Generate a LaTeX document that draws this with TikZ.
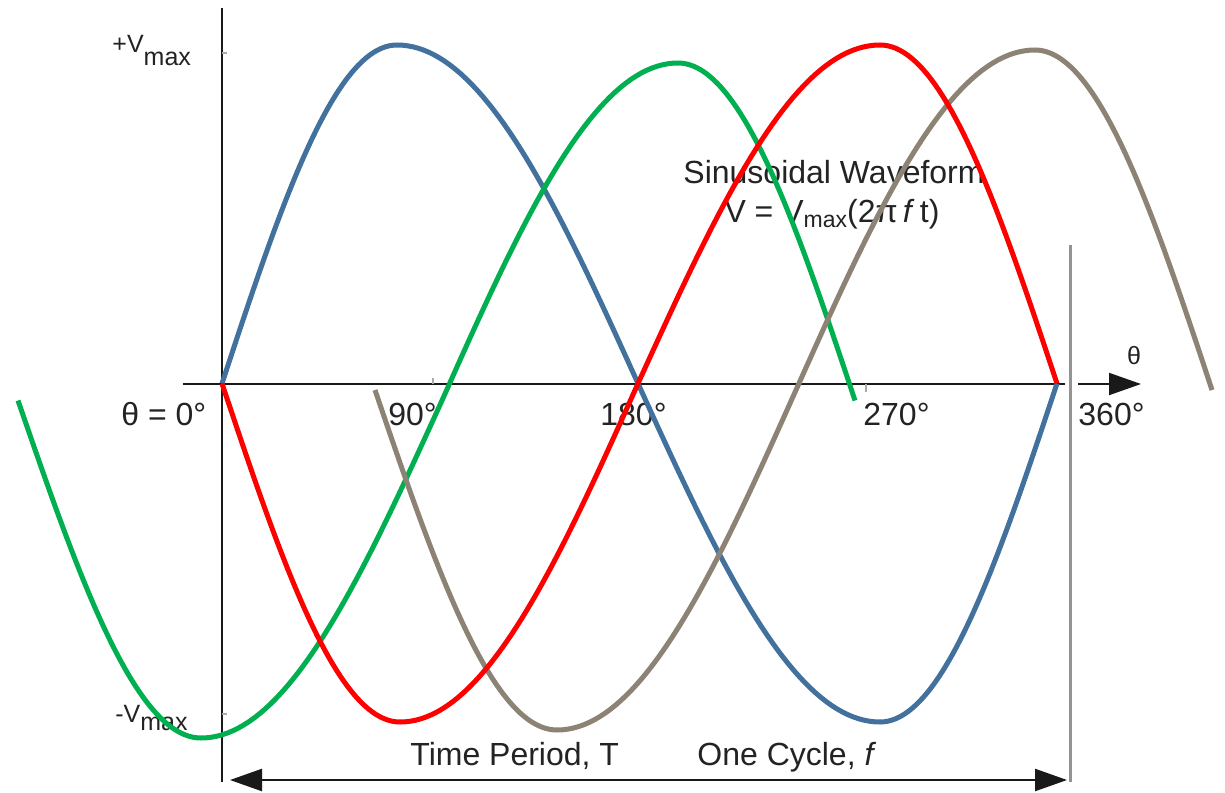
\documentclass[tikz,border=0pt]{standalone}
\usepackage{fontspec}
\setmainfont{Liberation Sans}
\usetikzlibrary{arrows.meta}
\definecolor{wblue}{RGB}{65,113,156}
\definecolor{wgreen}{RGB}{0,176,80}
\definecolor{wred}{RGB}{255,0,0}
\definecolor{wgray}{RGB}{140,131,116}
\definecolor{txt}{RGB}{35,35,35}
\definecolor{axc}{RGB}{25,25,25}
\definecolor{tickc}{RGB}{170,170,170}
\newcommand\sinwave[8]{%
  \draw[#1] plot[domain=0:360,samples=181,variable=\t]
   ({#2+(#3-#2)*qq(\t)+(#4-#3)*qq(\t-90)+(#5-#4)*qq(\t-180)+(#6-#5)*qq(\t-270)},{#7-#8*sin(\t)});}
\begin{document}
\begin{tikzpicture}[x=0.5pt,y=-0.5pt,
  declare function={qq(\t)=min(max(\t,0),90)/90;},
  lbl/.style={inner sep=0pt, text=txt, font=\fontsize{16}{19}\selectfont},
  vlbl/.style={inner sep=0pt, text=txt, font=\fontsize{12.5}{15}\selectfont},
  wv/.style={line width=2.5pt},
  axisline/.style={line width=1pt, draw=axc},
  tipend/.style={-{Triangle[length=16pt,width=11pt]}},
  tipboth/.style={{Triangle[length=16pt,width=11pt]}-{Triangle[length=16pt,width=11pt]}},
  smalltick/.style={line width=0.6pt, draw=tickc}
]
\useasboundingbox (0,0) rectangle (1225,792);
\fill[white] (0,0) rectangle (1225,792);

% coordinates
\coordinate (vtop) at (222,8);
\coordinate (vbot) at (222,782);
\coordinate (hl) at (183,384);
\coordinate (hr) at (1065,384);
\coordinate (al) at (1078,384);
\coordinate (atip) at (1141,384);
\coordinate (tl) at (230,780);
\coordinate (tr) at (1067,780);
\coordinate (gtop) at (1070,245);
\coordinate (gbot) at (1070,782);

% axes
\draw[axisline] (vtop) -- (vbot);
\draw[axisline] (hl) -- (hr);
\draw[axisline,tipend] (al) -- (atip);
\draw[line width=1.5pt, draw=gray!85] (gtop) -- (gbot);
\draw[line width=1.2pt, draw=axc, tipboth] (tl) -- (tr);

% tiny ticks
\coordinate (t1a) at (433,378); \coordinate (t1b) at (433,384);
\coordinate (t2a) at (866,384); \coordinate (t2b) at (866,392);
\coordinate (t3a) at (222,53);  \coordinate (t3b) at (227,53);
\coordinate (t4a) at (222,714); \coordinate (t4b) at (227,714);
\draw[smalltick] (t1a) -- (t1b);
\draw[smalltick] (t2a) -- (t2b);
\draw[smalltick] (t3a) -- (t3b);
\draw[smalltick] (t4a) -- (t4b);

% labels
\node[vlbl, anchor=base west] (vmaxp) at (112,53) {+V\raisebox{-6.5pt}{max}};
\node[vlbl, anchor=base west] (vmaxn) at (115,722) {-V\raisebox{-4pt}{max}};
\node[lbl, anchor=base west] (th0) at (121,425) {θ = 0°};
\node[lbl, anchor=base west] (d90) at (388,425) {90°};
\node[lbl, anchor=base west] (d180) at (600,425) {180°};
\node[lbl, anchor=base west] (d270) at (863,425) {270°};
\node[lbl, anchor=base west] (d360) at (1078,425) {360°};
\node[inner sep=0pt, text=txt, font=\fontsize{12.5}{15}\selectfont] (thax) at (1134,356) {θ};
\node[lbl, anchor=base] (title) at (834,183) {Sinusoidal Waveform};
\node[lbl, anchor=base] (eq) at (832,222) {V = V{\fontsize{11.5}{13}\selectfont\raisebox{-2.5pt}{max}}(2π\,\textit{f}\,t)};
\node[lbl, anchor=base west] (tp) at (410,765) {Time Period, T};
\node[lbl, anchor=base west] (oc) at (697,765) {One Cycle, \textit{f}};

% waves
\sinwave{wv, draw=wblue}{222}{397}{638}{880}{1057}{383.5}{338.5}
\sinwave{wv, draw=wgreen}{18}{201}{442}{678}{855}{400.5}{-337.5}
\sinwave{wv, draw=wgray}{375}{557}{796}{1035}{1212}{390}{-340}
\sinwave{wv, draw=wred}{222}{400}{638}{880}{1057}{383.5}{-338.5}
\end{tikzpicture}
\end{document}
